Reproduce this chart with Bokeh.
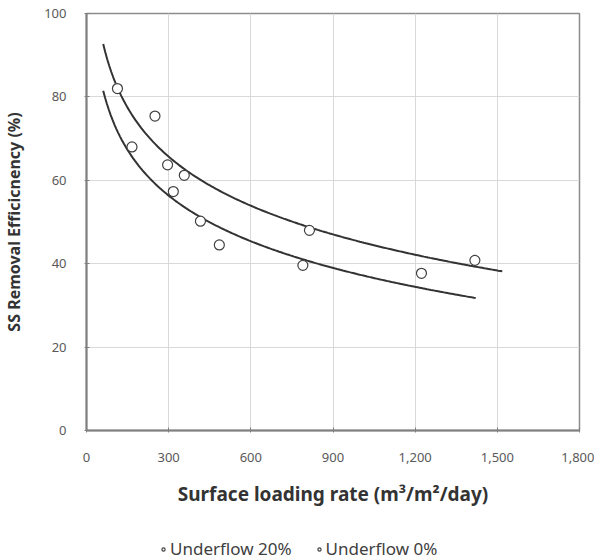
import numpy as np
from bokeh.plotting import figure
from bokeh.layouts import column
from bokeh.models import Range1d, FixedTicker, NumeralTickFormatter, Legend, LegendItem
from bokeh.embed import file_html
from bokeh.resources import INLINE

# Data
uf20_x = [113, 250, 296, 357, 814, 1418]
uf20_y = [82.0, 75.4, 63.7, 61.2, 48.0, 40.8]
uf0_x = [166, 317, 416, 485, 790, 1223]
uf0_y = [68.0, 57.3, 50.2, 44.5, 39.6, 37.7]

# Logarithmic trendlines y = a - b*ln(x), coefficients
trend20 = dict(a=162.4, b=16.96, x0=61, x1=1518)
trend0 = dict(a=146.4, b=15.79, x0=61, x1=1421)

x_ticks = [0, 300, 600, 900, 1200, 1500, 1800]
y_ticks = [0, 20, 40, 60, 80, 100]
series_labels = ["Underflow 20%", "Underflow 0%"]

FONT = "Noto Sans"

p = figure(width=594, height=515, output_backend="svg", toolbar_location=None,
           x_range=Range1d(0, 1800), y_range=Range1d(0, 100),
           min_border_left=85, min_border_right=15, min_border_top=13, min_border_bottom=85)
p.background_fill_color = "white"
p.border_fill_color = "white"
p.outline_line_color = "#8c8c8c"
p.outline_line_width = 1.5

for ax in (p.xaxis[0], p.yaxis[0]):
    ax.axis_line_color = "#7f7f7f"
    ax.axis_line_width = 2
    ax.major_tick_line_color = "#7f7f7f"
    ax.major_tick_in = 3
    ax.major_tick_out = 2
    ax.minor_tick_line_color = None
    ax.major_label_text_font = FONT
    ax.major_label_text_font_size = "13px"
    ax.major_label_text_color = "#595959"
    ax.axis_label_text_font = FONT
    ax.axis_label_text_font_style = "bold"
    ax.axis_label_text_color = "#333333"

p.xaxis.axis_label_text_font_size = "19px"
p.yaxis.axis_label_text_font_size = "16px"
p.xaxis.ticker = FixedTicker(ticks=x_ticks)
p.yaxis.ticker = FixedTicker(ticks=y_ticks)
p.xaxis.formatter = NumeralTickFormatter(format="0,0")
p.xaxis.major_label_standoff = 20
p.yaxis.major_label_standoff = 18
p.xaxis.axis_label_standoff = 16
p.yaxis.axis_label_standoff = 16
p.xaxis.axis_label = "Surface loading rate (m\u00b3/m\u00b2/day)"
p.yaxis.axis_label = "SS Removal Efficicnency (%)"

p.xgrid.grid_line_color = "#d9d9d9"
p.ygrid.grid_line_color = "#d9d9d9"
p.xgrid.grid_line_width = 1
p.ygrid.grid_line_width = 1

for tr in (trend20, trend0):
    xs = np.linspace(tr["x0"], tr["x1"], 200)
    ys = tr["a"] - tr["b"] * np.log(xs)
    p.line(xs, ys, line_color="#333333", line_width=2)

p.scatter(uf20_x, uf20_y, marker="circle", size=10, fill_color="white",
          line_color="#404040", line_width=1.2)
p.scatter(uf0_x, uf0_y, marker="circle", size=10, fill_color="white",
          line_color="#404040", line_width=1.2)

# Legend strip below the chart (its swatch renderers sit outside its visible range)
lg = figure(width=594, height=45, output_backend="svg", toolbar_location=None,
            x_range=Range1d(0, 1), y_range=Range1d(0, 1),
            x_axis_location=None, y_axis_location=None,
            min_border_left=0, min_border_right=0, min_border_top=0, min_border_bottom=0)
lg.grid.visible = False
lg.outline_line_color = None
lg.background_fill_color = "white"
lg.border_fill_color = "white"
d20 = lg.scatter([-5], [-5], marker="circle", size=7, fill_color="white",
                 line_color="#404040", line_width=1.2)
d0 = lg.scatter([-5], [-5], marker="circle", size=7, fill_color="white",
                line_color="#404040", line_width=1.2)
legend = Legend(items=[LegendItem(label=series_labels[0], renderers=[d20]),
                       LegendItem(label=series_labels[1], renderers=[d0])],
                orientation="horizontal", location=(73, 0),
                label_text_font=FONT, label_text_font_size="17px",
                label_text_color="#404040", glyph_width=8, glyph_height=8,
                label_standoff=3, spacing=23, border_line_color=None,
                background_fill_alpha=0, margin=0, padding=0)
lg.add_layout(legend, "center")

open("out.html", "w").write(file_html(column(p, lg, spacing=0), INLINE))
